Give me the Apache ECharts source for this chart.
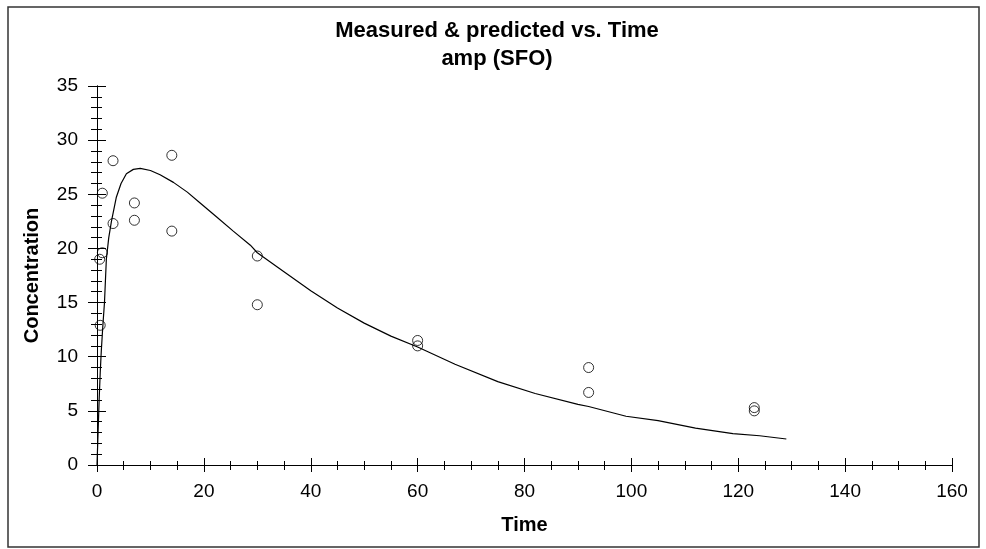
<!DOCTYPE html>
<html>
<head>
<meta charset="utf-8">
<script src="https://cdn.jsdelivr.net/npm/echarts@6/dist/echarts.min.js"></script>
<style>
html,body{margin:0;padding:0;background:#fff;}
#c{width:986px;height:549px;}
</style>
</head>
<body>
<div id="c"></div>
<script>
// Measured concentrations: time and value
var measuredTime = [0.5, 0.6, 1, 1, 3, 3, 7, 7, 14, 14, 30, 30, 60, 60, 92, 92, 123, 123];
var measuredConc = [19.0, 12.9, 25.1, 19.6, 28.1, 22.3, 24.2, 22.6, 28.6, 21.6, 19.3, 14.8, 11.5, 11.0, 9.0, 6.7, 5.3, 5.0];
// Predicted curve
var predTime = [0, 0.2, 0.4, 0.6, 0.8, 1.1, 1.4, 1.75, 2.2, 2.7, 3.6, 4.5, 5.5, 6.8, 8.1, 10, 11.8, 14.3, 16.9, 19.3, 22.4, 25.5, 28.7, 30, 34, 40, 45, 50, 55, 60, 67, 75, 82, 90, 92, 99, 105, 112, 119, 124, 129];
var predConc = [0, 3, 6, 8.5, 10.5, 12.9, 15, 19, 21, 22.5, 24.7, 26.0, 26.9, 27.3, 27.4, 27.2, 26.8, 26.1, 25.2, 24.2, 22.9, 21.6, 20.3, 19.6, 18.2, 16.1, 14.5, 13.1, 11.9, 10.9, 9.3, 7.7, 6.6, 5.6, 5.4, 4.5, 4.1, 3.4, 2.9, 2.7, 2.4];
var titleLines = ['Measured & predicted vs. Time', 'amp (SFO)'];
var xName = 'Time', yName = 'Concentration';

var FONT = '"Liberation Sans", Arial, sans-serif';
var chart = echarts.init(document.getElementById('c'));

function zip(a, b) { return a.map(function (v, i) { return [v, b[i]]; }); }

var grid = { left: 97, right: 34, top: 86, bottom: 84, containLabel: false };
var lineStyle = { color: '#000', width: 1 };

chart.setOption({
  animation: false,
  backgroundColor: '#fff',
  grid: grid,
  graphic: [
    { type: 'rect', shape: { x: 8, y: 7, width: 971, height: 540 }, style: { fill: 'none', stroke: '#333', lineWidth: 1.5 }, z: -1 },
    { type: 'text', x: 497, y: 31, style: { text: titleLines[0], textAlign: 'center', textVerticalAlign: 'middle', font: 'bold 22px ' + FONT, fill: '#000' } },
    { type: 'text', x: 497, y: 59, style: { text: titleLines[1], textAlign: 'center', textVerticalAlign: 'middle', font: 'bold 22px ' + FONT, fill: '#000' } }
  ],
  xAxis: [
    { type: 'value', position: 'bottom', min: 0, max: 160, interval: 20,
      name: xName, nameLocation: 'middle', nameGap: 50,
      nameTextStyle: { fontFamily: FONT, fontWeight: 'bold', fontSize: 20, color: '#000' },
      axisLine: { show: true, lineStyle: lineStyle },
      axisTick: { show: true, inside: false, length: 7, lineStyle: lineStyle },
      minorTick: { show: true, splitNumber: 4, length: 4, lineStyle: lineStyle },
      axisLabel: { fontFamily: FONT, fontSize: 19, color: '#000', margin: 17 },
      splitLine: { show: false } },
    { type: 'value', position: 'bottom', min: 0, max: 160, interval: 20,
      axisLine: { show: false },
      axisTick: { show: true, inside: true, length: 7, lineStyle: lineStyle },
      minorTick: { show: true, splitNumber: 4, length: 4, lineStyle: lineStyle },
      axisLabel: { show: false }, splitLine: { show: false } },
    { type: 'value', position: 'top', min: 0, max: 160, interval: 5,
      axisLine: { show: true, lineStyle: lineStyle },
      axisTick: { show: true, inside: true, length: 5, lineStyle: lineStyle },
      axisLabel: { show: false }, splitLine: { show: false } }
  ],
  yAxis: [
    { type: 'value', position: 'left', min: 0, max: 35, interval: 5,
      name: yName, nameLocation: 'middle', nameGap: 55, nameRotate: 90,
      nameTextStyle: { fontFamily: FONT, fontWeight: 'bold', fontSize: 20, color: '#000' },
      axisLine: { show: true, lineStyle: lineStyle },
      axisTick: { show: true, inside: false, length: 9, lineStyle: lineStyle },
      minorTick: { show: true, splitNumber: 5, length: 5, lineStyle: lineStyle },
      axisLabel: { fontFamily: FONT, fontSize: 19, color: '#000', margin: 19 },
      splitLine: { show: false } },
    { type: 'value', position: 'left', min: 0, max: 35, interval: 5,
      axisLine: { show: false },
      axisTick: { show: true, inside: true, length: 9, lineStyle: lineStyle },
      minorTick: { show: true, splitNumber: 5, length: 5, lineStyle: lineStyle },
      axisLabel: { show: false }, splitLine: { show: false } },
    { type: 'value', position: 'right', min: 0, max: 35, interval: 1,
      axisLine: { show: true, lineStyle: lineStyle },
      axisTick: { show: true, inside: true, length: 6, lineStyle: lineStyle },
      axisLabel: { show: false }, splitLine: { show: false } }
  ],
  series: [
    { type: 'line', xAxisIndex: 0, yAxisIndex: 0, data: zip(predTime, predConc),
      showSymbol: false, symbol: 'none', lineStyle: { color: '#000', width: 1.2 }, z: 2 },
    { type: 'scatter', xAxisIndex: 0, yAxisIndex: 0, data: zip(measuredTime, measuredConc),
      symbol: 'circle', symbolSize: 10,
      itemStyle: { color: 'rgba(0,0,0,0)', borderColor: '#000', borderWidth: 1 }, z: 3 }
  ]
});
</script>
</body>
</html>
